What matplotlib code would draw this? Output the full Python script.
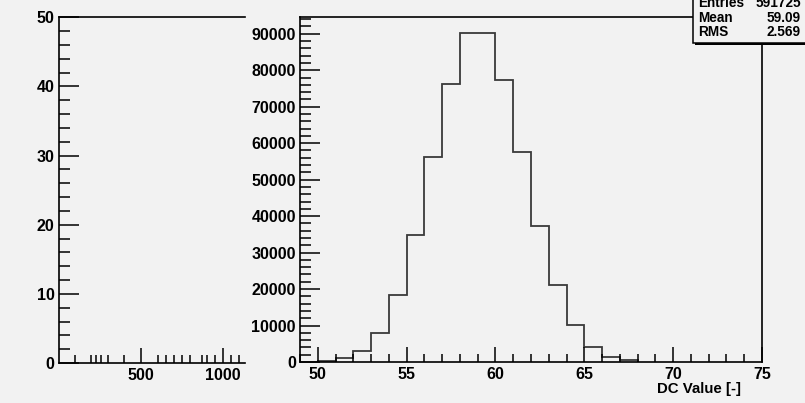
import matplotlib
matplotlib.use("Agg")
import matplotlib.pyplot as plt
from matplotlib.patches import Rectangle
from matplotlib.ticker import MultipleLocator, FixedLocator
import numpy as np

plt.rcParams['font.family'] = ['Liberation Sans', 'DejaVu Sans']
plt.rcParams['font.weight'] = 'bold'

# histogram of DC values, 1-unit bins from 50 to 68
bin_edges = np.arange(50, 69)
counts = [200, 1000, 3000, 8000, 18400, 34900, 56200, 76300, 90100, 90100,
          77400, 57500, 37300, 21000, 10100, 4000, 1450, 550]

stats_names = ["Entries", "Mean", "RMS"]
stats_values = ["591725", "59.09", "2.569"]

# left (empty) panel ticks
left_major_x = [500, 1000]
left_minor_x = [100, 197, 227, 254, 302, 398, 601, 652, 699, 750, 800,
                872, 902, 947, 1045, 1095]

bg = '#f2f2f2'
W, H = 805, 403
fig = plt.figure(figsize=(W / 100, H / 100), dpi=100, facecolor=bg)

def style_axis(ax):
    ax.set_facecolor(bg)
    for s in ax.spines.values():
        s.set_linewidth(1.2)
        s.set_color('black')
    ax.tick_params(axis='y', which='major', direction='in', length=14.5, width=1.1,
                   labelsize=11.5, pad=3, right=False)
    ax.tick_params(axis='y', which='minor', direction='in', length=8, width=1.1, right=False)
    ax.tick_params(axis='x', which='major', direction='in', length=10.5, width=1.1,
                   labelsize=11.5, pad=3.5, top=False)
    ax.tick_params(axis='x', which='minor', direction='in', length=5.5, width=1.1, top=False)
    for lab in ax.get_xticklabels() + ax.get_yticklabels():
        lab.set_fontweight('bold')

# left panel
axl = fig.add_axes([58.7 / W, 1 - 363 / H, (245 - 58.7) / W, (363 - 17.3) / H])
axl.set_xlim(0, 1132)
axl.set_ylim(0, 50)
axl.spines['right'].set_visible(False)
axl.xaxis.set_major_locator(FixedLocator(left_major_x))
axl.xaxis.set_minor_locator(FixedLocator(left_minor_x))
axl.yaxis.set_major_locator(MultipleLocator(10))
axl.yaxis.set_minor_locator(MultipleLocator(2))
style_axis(axl)

# right panel: the histogram
axr = fig.add_axes([300 / W, 1 - 362 / H, (762 - 300) / W, (362 - 17) / H])
axr.stairs(counts, bin_edges, baseline=0, color='#3a3a3a', linewidth=1.3)
axr.set_xlim(49, 75)
axr.set_ylim(0, 94600)
axr.xaxis.set_major_locator(MultipleLocator(5))
axr.xaxis.set_minor_locator(MultipleLocator(1))
axr.yaxis.set_major_locator(MultipleLocator(10000))
axr.yaxis.set_minor_locator(MultipleLocator(2000))
style_axis(axr)
fig.text(741 / W, 1 - 393 / H, "DC Value [-]", ha='right', va='baseline',
         fontsize=10.8, fontweight='bold')

# stats box in the top right corner
bx, by = 693.3 / W, 1 - 43.3 / H
fig.patches.append(Rectangle((bx + 2 / W, by - 2 / H), 1, 1, transform=fig.transFigure,
                             facecolor='black', edgecolor='none', zorder=5))
fig.patches.append(Rectangle((bx, by), 1, 1, transform=fig.transFigure,
                             facecolor=bg, edgecolor='black', linewidth=1.1, zorder=6))
row_y = [3.4, 17.8, 32.2]
for name, val, yy in zip(stats_names, stats_values, row_y):
    fig.text(698.5 / W, 1 - yy / H, name, ha='left', va='center', fontsize=9.8,
             fontweight='bold', zorder=7)
    fig.text(801 / W, 1 - yy / H, val, ha='right', va='center', fontsize=9.8,
             fontweight='bold', zorder=7)

fig.savefig("out.png", dpi=100, facecolor=bg)
